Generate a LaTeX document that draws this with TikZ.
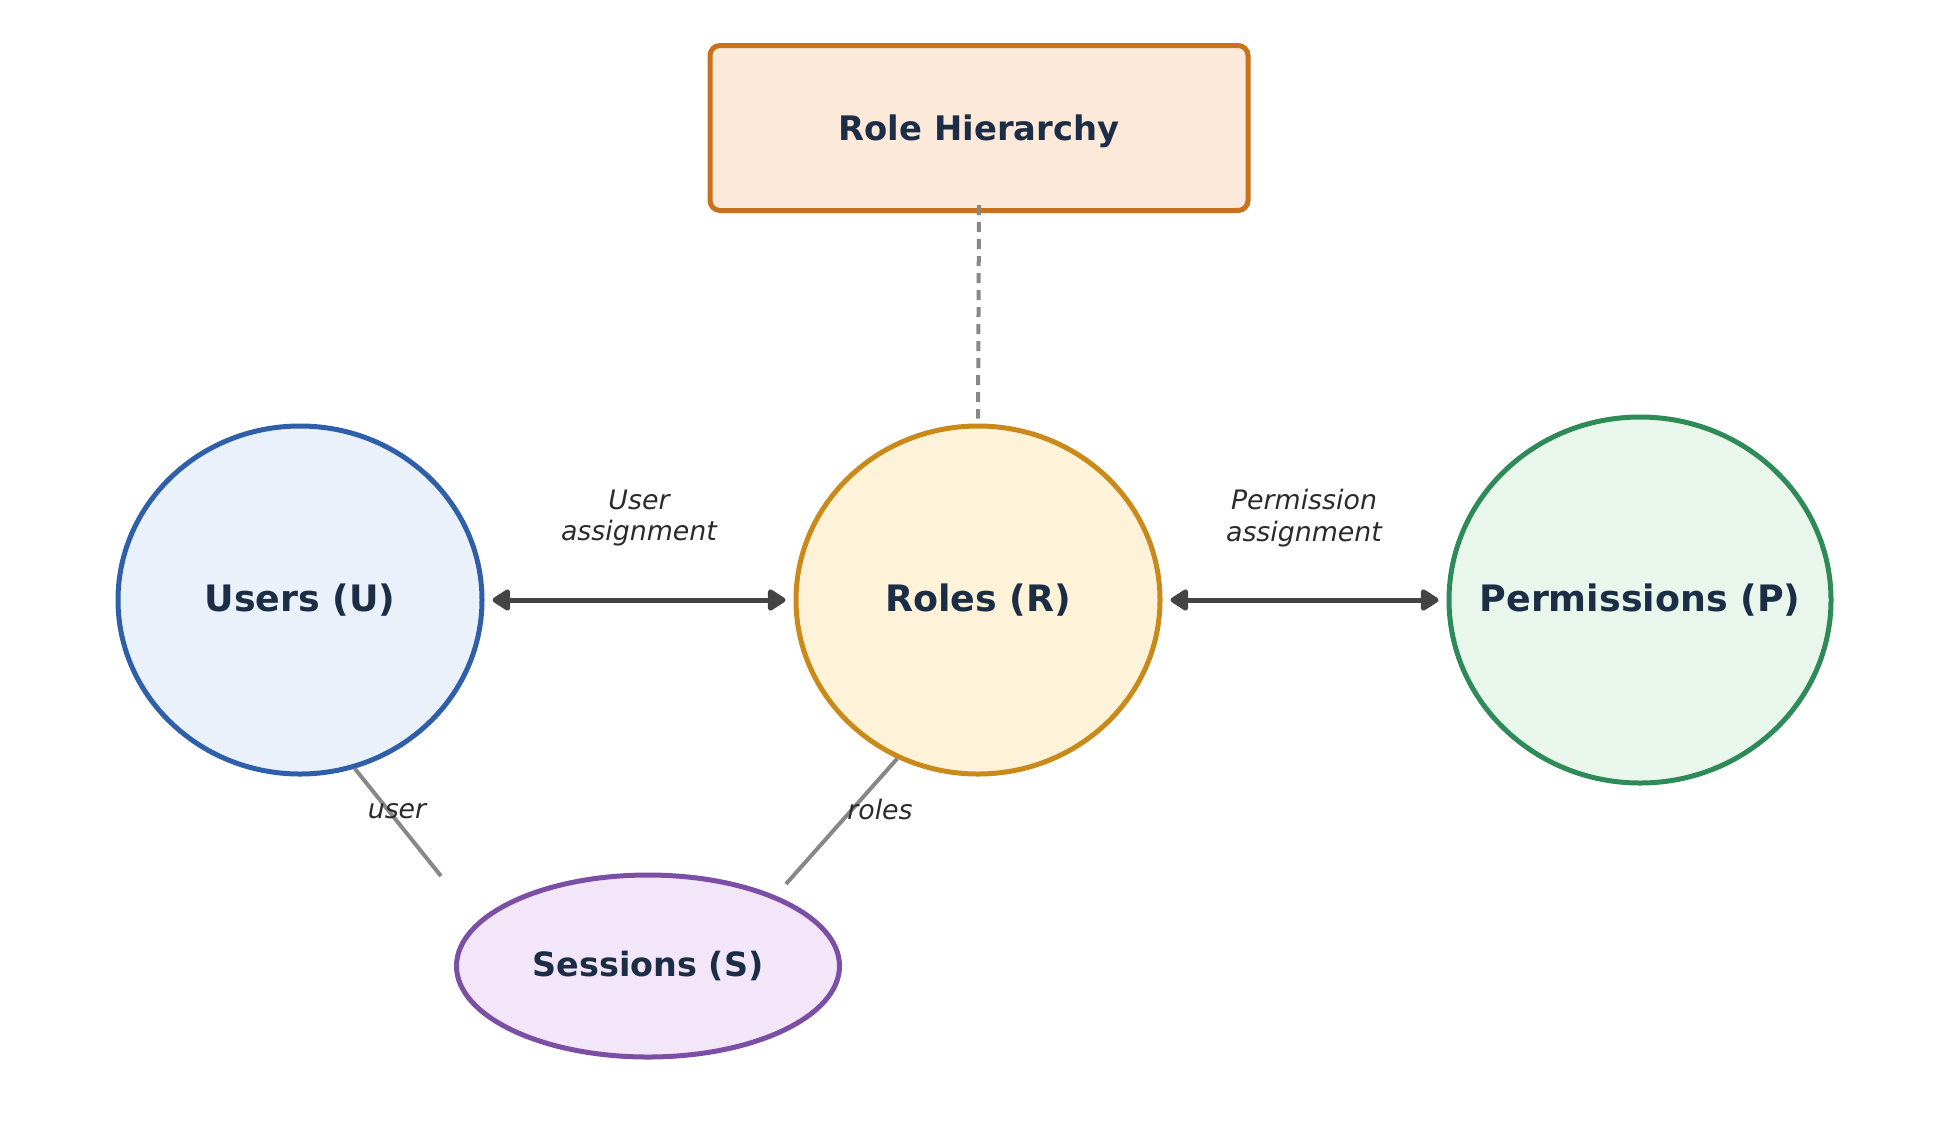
\documentclass[tikz,border=0pt]{standalone}
\usepackage{fontspec}
\setmainfont{DejaVu Sans}
\usetikzlibrary{arrows.meta,shapes.geometric}
\definecolor{txt}{HTML}{1B2E45}
\definecolor{ufill}{HTML}{EAF1FB}\definecolor{udraw}{HTML}{2E5FA8}
\definecolor{rfill}{HTML}{FEF3D8}\definecolor{rdraw}{HTML}{C98A1A}
\definecolor{pfill}{HTML}{E8F6EC}\definecolor{pdraw}{HTML}{2E8B57}
\definecolor{sfill}{HTML}{F2E6F8}\definecolor{sdraw}{HTML}{7B4FA6}
\definecolor{hfill}{HTML}{FCE9DA}\definecolor{hdraw}{HTML}{C9721E}
\definecolor{arr}{HTML}{444444}
\definecolor{gry}{HTML}{888888}
\definecolor{lbl}{HTML}{2B2B2B}
\tikzset{
  ent/.style={ellipse,inner sep=0pt,line width=2.5pt,text=txt,font=\bfseries\fontsize{18.2}{22}\selectfont},
  hbox/.style={rectangle,rounded corners=5pt,line width=2.5pt,draw=hdraw,fill=hfill,text=txt,
    minimum width=269pt,minimum height=82.5pt,text height=12.8pt,text depth=0.2pt,font=\bfseries\fontsize{16.9}{20}\selectfont},
  rel/.style={line width=2.5pt,draw=arr,{Triangle[length=10pt,width=12pt,round]}-{Triangle[length=10pt,width=12pt,round]},shorten <=4pt,shorten >=4pt},
  lab/.style={text=lbl,align=center,font=\itshape\fontsize{13.4}{15.6}\selectfont},
  thin/.style={line width=2pt,draw=gry},
}
\newcommand{\zw}[1]{\makebox[0pt]{#1}}
\begin{document}
\begin{tikzpicture}[x=0.5pt,y=-0.5pt]
\useasboundingbox (0,0) rectangle (1957,1121);
\node[hbox] (rh) at (979,128) {Role Hierarchy};
\node[ent,draw=udraw,fill=ufill,minimum width=182pt,minimum height=174pt] (users) at (300,600) {\zw{Users (U)}};
\node[ent,draw=rdraw,fill=rfill,minimum width=182pt,minimum height=174pt] (roles) at (978,600) {\zw{Roles (R)}};
\node[ent,draw=pdraw,fill=pfill,minimum width=191pt,minimum height=183pt] (perms) at (1640,600) {\zw{Permissions (P)}};
\node[ent,draw=sdraw,fill=sfill,minimum width=191.5pt,minimum height=91pt,font=\bfseries\fontsize{16.7}{20}\selectfont] (sess) at (648,966) {\zw{Sessions (S)}};
\draw[line width=2pt,draw=gry,dash pattern=on 5pt off 3.5pt] ([yshift=4pt]rh.south) -- ([yshift=2.5pt]roles.north);
\draw[rel] (users) -- (roles);
\draw[rel] (roles) -- (perms);
\node[lab] (ua) at (639,518) {User\\assignment};
\node[lab] (pa) at (1304,518) {Permission\\assignment};
\coordinate (ue) at (441,876);
\coordinate (re) at (786,884);
\draw[thin] (users.-72) -- (ue);
\draw[thin] (roles.-117) -- (re);
\node[lab] (ul) at (397,811) {user};
\node[lab] (rl) at (880,809) {roles};
\end{tikzpicture}
\end{document}
